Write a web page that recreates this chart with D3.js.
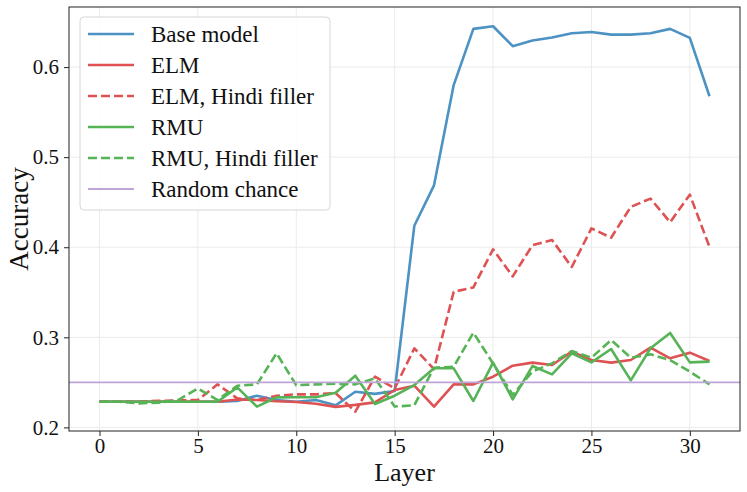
<!DOCTYPE html>
<html>
<head>
<meta charset="utf-8">
<script src="https://cdn.jsdelivr.net/npm/d3@7"></script>
<style>
  body { margin: 0; background: #fff; }
  text { font-family: 'Liberation Serif', 'DejaVu Serif', serif; fill: #111; }
</style>
</head>
<body>
<div id="chart"></div>
<script>
const layers = [0, 1, 2, 3, 4, 5, 6, 7, 8, 9, 10, 11, 12, 13, 14, 15,
  16, 17, 18, 19, 20, 21, 22, 23, 24, 25, 26, 27, 28, 29, 30, 31]

const baseModel = [0.2285, 0.2285, 0.2285, 0.2285, 0.2285, 0.2285, 0.2285, 0.2293,
  0.2352, 0.2304, 0.2285, 0.2304, 0.2245, 0.2396, 0.2372, 0.2404,
  0.4239, 0.4687, 0.5800, 0.6424, 0.6453, 0.6232, 0.6295, 0.6328,
  0.6375, 0.6390, 0.6360, 0.6360, 0.6375, 0.6424, 0.6324, 0.5676]

const elm = [0.2285, 0.2285, 0.2285, 0.2285, 0.2285, 0.2285, 0.2285, 0.2310,
  0.2304, 0.2290, 0.2282, 0.2263, 0.2228, 0.2250, 0.2278, 0.2415,
  0.2463, 0.2230, 0.2478, 0.2478, 0.2563, 0.2685, 0.2719, 0.2693,
  0.2841, 0.2748, 0.2719, 0.2748, 0.2885, 0.2767, 0.2830, 0.2737]

const elmHindi = [0.2285, 0.2285, 0.2285, 0.2295, 0.2300, 0.2304, 0.2478, 0.2322,
  0.2304, 0.2352, 0.2367, 0.2367, 0.2381, 0.2174, 0.2563, 0.2433,
  0.2878, 0.2648, 0.3506, 0.3554, 0.3977, 0.3676, 0.4022, 0.4080,
  0.3781, 0.4209, 0.4106, 0.4448, 0.4540, 0.4278, 0.4584, 0.4003]

const rmu = [0.2285, 0.2285, 0.2285, 0.2285, 0.2285, 0.2285, 0.2285, 0.2444,
  0.2230, 0.2333, 0.2335, 0.2335, 0.2385, 0.2574, 0.2260, 0.2352,
  0.2470, 0.2656, 0.2656, 0.2293, 0.2719, 0.2311, 0.2681, 0.2589,
  0.2822, 0.2722, 0.2870, 0.2522, 0.2878, 0.3048, 0.2722, 0.2730]

const rmuHindi = [0.2285, 0.2285, 0.2267, 0.2275, 0.2304, 0.2433, 0.2304, 0.2463,
  0.2478, 0.2822, 0.2468, 0.2478, 0.2485, 0.2478, 0.2544, 0.2232,
  0.2245, 0.2663, 0.2674, 0.3052, 0.2710, 0.2360, 0.2620, 0.2711,
  0.2848, 0.2774, 0.2970, 0.2774, 0.2811, 0.2748, 0.2619, 0.2478]

const randomChance = 0.25

const xTicks = [0, 5, 10, 15, 20, 25, 30]
const yTicks = [0.2, 0.3, 0.4, 0.5, 0.6]

const series = [
  { name: 'Base model', values: baseModel, color: '#4c92c3', dash: null },
  { name: 'ELM', values: elm, color: '#de5253', dash: null },
  { name: 'ELM, Hindi filler', values: elmHindi, color: '#de5253', dash: '9,4' },
  { name: 'RMU', values: rmu, color: '#56b356', dash: null },
  { name: 'RMU, Hindi filler', values: rmuHindi, color: '#56b356', dash: '9,4' }
]

const W = 747
const H = 492
const margin = { top: 7, right: 7, bottom: 61, left: 69 }
const w = W - margin.left - margin.right
const h = H - margin.top - margin.bottom

// matplotlib-like 5% padding on both axes
const xPad = (d3.max(layers) - d3.min(layers)) * 0.05
const allY = series.flatMap(s => s.values).concat([randomChance])
const yMin = d3.min(allY)
const yMax = d3.max(allY)
const yPad = (yMax - yMin) * 0.05

const x = d3.scaleLinear().domain([d3.min(layers) - xPad, d3.max(layers) + xPad]).range([0, w])
const y = d3.scaleLinear().domain([yMin - yPad, yMax + yPad]).range([h, 0])

const svg = d3.select('#chart').append('svg')
  .attr('width', W)
  .attr('height', H)

const g = svg.append('g')
  .attr('transform', 'translate(' + margin.left + ',' + margin.top + ')')

// grid
g.append('g').selectAll('line')
  .data(xTicks)
  .enter().append('line')
  .attr('x1', d => x(d)).attr('x2', d => x(d))
  .attr('y1', 0).attr('y2', h)
  .attr('stroke', '#ebebeb').attr('stroke-width', 1)

g.append('g').selectAll('line')
  .data(yTicks)
  .enter().append('line')
  .attr('x1', 0).attr('x2', w)
  .attr('y1', d => y(d)).attr('y2', d => y(d))
  .attr('stroke', '#ebebeb').attr('stroke-width', 1)

// axes
const xAxis = g.append('g')
  .attr('transform', 'translate(0,' + h + ')')
  .call(d3.axisBottom(x).tickValues(xTicks).tickFormat(d3.format('d')).tickSize(5).tickPadding(2))
xAxis.select('.domain').remove()
xAxis.selectAll('text').style('font-size', '21px').style('font-family', "'Liberation Serif', serif")
xAxis.selectAll('line').attr('stroke', '#222')

const yAxis = g.append('g')
  .call(d3.axisLeft(y).tickValues(yTicks).tickFormat(d3.format('.1f')).tickSize(5).tickPadding(5))
yAxis.select('.domain').remove()
yAxis.selectAll('text').style('font-size', '21px').style('font-family', "'Liberation Serif', serif")
yAxis.selectAll('line').attr('stroke', '#222')

// lines
const line = d3.line()
  .x((d, i) => x(layers[i]))
  .y(d => y(d))

g.append('g').selectAll('path')
  .data(series)
  .enter().append('path')
  .attr('d', d => line(d.values))
  .attr('fill', 'none')
  .attr('stroke', d => d.color)
  .attr('stroke-width', 2.6)
  .attr('stroke-dasharray', d => d.dash)
  .attr('stroke-linejoin', 'round')

g.append('line')
  .attr('x1', 0).attr('x2', w)
  .attr('y1', y(randomChance)).attr('y2', y(randomChance))
  .attr('stroke', '#bfa4d7')
  .attr('stroke-width', 1.8)

// frame
g.append('rect')
  .attr('width', w).attr('height', h)
  .attr('fill', 'none')
  .attr('stroke', '#222')
  .attr('stroke-width', 1)

// axis labels
svg.append('text')
  .attr('x', margin.left + w / 2)
  .attr('y', 481)
  .attr('text-anchor', 'middle')
  .style('font-size', '26px')
  .text('Layer')

svg.append('text')
  .attr('transform', 'translate(28,' + (margin.top + h / 2) + ') rotate(-90)')
  .attr('text-anchor', 'middle')
  .style('font-size', '27px')
  .text('Accuracy')

// legend
const legendItems = series.concat([{ name: 'Random chance', color: '#bfa4d7', dash: null, thin: true }])

const legend = svg.append('g').attr('transform', 'translate(80,17)')

legend.append('rect')
  .attr('width', 250).attr('height', 193)
  .attr('rx', 4)
  .attr('fill', 'rgba(255,255,255,0.85)')
  .attr('stroke', '#d6d6d6')

const rows = legend.selectAll('.row')
  .data(legendItems)
  .enter().append('g')
  .attr('class', 'row')
  .attr('transform', (d, i) => 'translate(0,' + (17 + i * 31) + ')')

rows.append('line')
  .attr('x1', 8).attr('x2', 54)
  .attr('stroke', d => d.color)
  .attr('stroke-width', d => d.thin ? 1.8 : 2.6)
  .attr('stroke-dasharray', d => d.dash)

rows.append('text')
  .attr('x', 71)
  .attr('dy', '0.35em')
  .style('font-size', '23px')
  .text(d => d.name)
</script>
</body>
</html>
